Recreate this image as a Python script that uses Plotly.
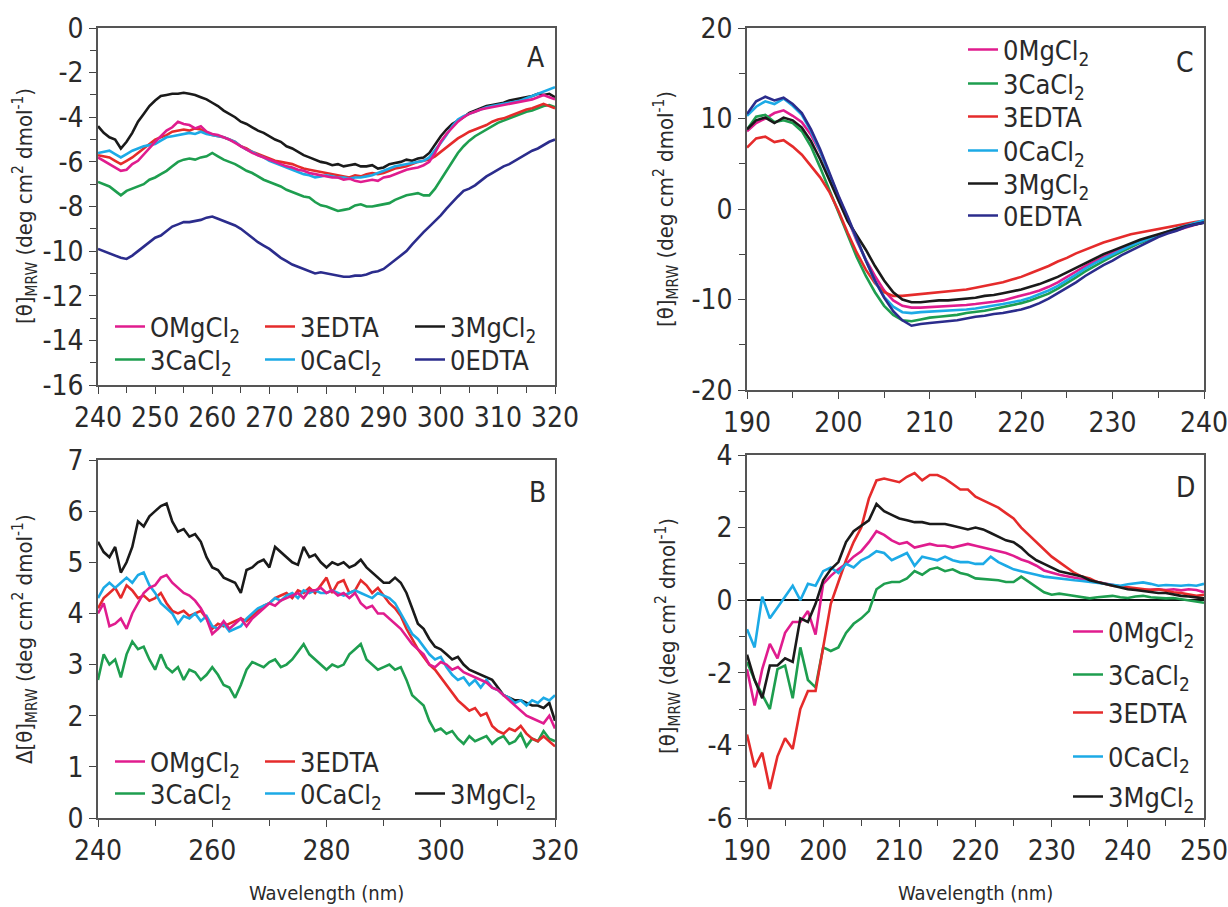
import plotly.graph_objects as go

# ---------------- Panel A data (240-320 nm, 1 nm step) ----------------
wl_A = list(range(240, 321))
A_0MgCl2 = [-5.8, -5.95, -6.1, -6.25, -6.4, -6.35, -6.1, -5.95, -5.65, -5.4,
            -5.1, -4.85, -4.6, -4.45, -4.2, -4.3, -4.35, -4.5, -4.4, -4.65,
            -4.75, -4.8, -4.9, -5.0, -5.15, -5.3, -5.45, -5.6, -5.7, -5.8,
            -5.9, -6.0, -6.1, -6.2, -6.25, -6.35, -6.4, -6.5, -6.55, -6.6,
            -6.65, -6.7, -6.7, -6.8, -6.75, -6.85, -6.9, -6.85, -6.8, -6.85,
            -6.7, -6.65, -6.55, -6.45, -6.35, -6.3, -6.25, -6.15, -6.0, -5.6,
            -5.1, -4.75, -4.45, -4.2, -4.0, -3.85, -3.75, -3.65, -3.6, -3.55,
            -3.5, -3.45, -3.4, -3.35, -3.3, -3.25, -3.2, -3.1, -3.0, -3.1, -3.2]
A_3CaCl2 = [-6.9, -7.0, -7.1, -7.3, -7.5, -7.3, -7.2, -7.1, -7.0, -6.8,
            -6.7, -6.55, -6.4, -6.2, -6.0, -5.9, -5.85, -5.9, -5.8, -5.75,
            -5.6, -5.75, -5.9, -6.0, -6.1, -6.25, -6.4, -6.5, -6.65, -6.8,
            -6.9, -7.0, -7.1, -7.25, -7.35, -7.45, -7.55, -7.6, -7.8, -7.95,
            -8.0, -8.1, -8.2, -8.15, -8.1, -7.95, -7.9, -8.0, -8.0, -7.95,
            -7.9, -7.85, -7.7, -7.6, -7.5, -7.45, -7.4, -7.5, -7.5, -7.2,
            -6.8, -6.4, -6.0, -5.6, -5.3, -5.05, -4.85, -4.7, -4.55, -4.4,
            -4.25, -4.15, -4.05, -3.95, -3.85, -3.75, -3.7, -3.6, -3.5, -3.45, -3.55]
A_3EDTA = [-5.7, -5.75, -5.8, -5.95, -6.1, -5.95, -5.8, -5.6, -5.4, -5.2,
           -5.0, -4.9, -4.8, -4.65, -4.6, -4.55, -4.6, -4.5, -4.55, -4.7,
           -4.8, -4.85, -4.9, -5.0, -5.1, -5.3, -5.4, -5.55, -5.65, -5.75,
           -5.85, -5.95, -6.0, -6.05, -6.1, -6.2, -6.3, -6.35, -6.4, -6.45,
           -6.5, -6.55, -6.6, -6.65, -6.7, -6.6, -6.65, -6.55, -6.5, -6.55,
           -6.5, -6.4, -6.3, -6.25, -6.2, -6.1, -6.0, -5.95, -5.9, -5.75,
           -5.55, -5.35, -5.15, -4.95, -4.8, -4.65, -4.55, -4.45, -4.35, -4.2,
           -4.1, -4.05, -3.95, -3.85, -3.75, -3.65, -3.6, -3.5, -3.4, -3.5, -3.6]
A_0CaCl2 = [-5.6, -5.55, -5.5, -5.65, -5.8, -5.65, -5.5, -5.4, -5.3, -5.25,
            -5.2, -5.05, -4.9, -4.85, -4.8, -4.75, -4.7, -4.75, -4.65, -4.75,
            -4.8, -4.85, -4.9, -5.0, -5.1, -5.3, -5.45, -5.55, -5.7, -5.8,
            -5.95, -6.05, -6.15, -6.25, -6.35, -6.45, -6.55, -6.6, -6.7, -6.65,
            -6.6, -6.65, -6.7, -6.7, -6.75, -6.7, -6.7, -6.65, -6.6, -6.5,
            -6.4, -6.3, -6.2, -6.15, -6.1, -6.05, -6.0, -5.95, -5.8, -5.5,
            -5.15, -4.8, -4.4, -4.1, -3.95, -3.85, -3.75, -3.65, -3.55, -3.5,
            -3.45, -3.4, -3.35, -3.3, -3.25, -3.15, -3.05, -2.95, -2.85, -2.75, -2.65]
A_3MgCl2 = [-4.4, -4.7, -4.9, -5.0, -5.4, -5.1, -4.7, -4.2, -3.85, -3.5,
            -3.25, -3.05, -3.0, -2.95, -2.95, -2.9, -2.95, -3.0, -3.1, -3.2,
            -3.35, -3.5, -3.7, -3.85, -4.0, -4.2, -4.3, -4.45, -4.6, -4.7,
            -4.85, -5.0, -5.1, -5.3, -5.4, -5.55, -5.7, -5.8, -5.9, -6.0,
            -6.05, -6.15, -6.1, -6.2, -6.15, -6.1, -6.2, -6.2, -6.15, -6.3,
            -6.25, -6.1, -6.05, -6.0, -5.9, -5.95, -5.85, -5.8, -5.6, -5.2,
            -4.85, -4.55, -4.3, -4.15, -4.0, -3.8, -3.7, -3.6, -3.5, -3.45,
            -3.4, -3.35, -3.25, -3.2, -3.15, -3.1, -3.05, -2.95, -3.0, -2.95, -3.1]
A_0EDTA = [-9.9, -10.0, -10.1, -10.2, -10.3, -10.35, -10.2, -10.0, -9.8, -9.6,
           -9.4, -9.3, -9.1, -8.9, -8.8, -8.7, -8.7, -8.65, -8.6, -8.5,
           -8.45, -8.55, -8.65, -8.75, -8.85, -9.0, -9.2, -9.4, -9.6, -9.75,
           -9.9, -10.1, -10.3, -10.45, -10.6, -10.7, -10.8, -10.9, -11.0, -10.95,
           -11.0, -11.05, -11.1, -11.15, -11.15, -11.1, -11.1, -11.05, -10.95, -10.9,
           -10.8, -10.6, -10.4, -10.2, -10.0, -9.7, -9.4, -9.15, -8.9, -8.65,
           -8.4, -8.1, -7.8, -7.55, -7.3, -7.2, -7.05, -6.85, -6.65, -6.5,
           -6.35, -6.2, -6.1, -5.95, -5.8, -5.65, -5.5, -5.4, -5.25, -5.1, -5.0]

# ---------------- Panel B data (240-320 nm, 1 nm step) ----------------
wl_B = list(range(240, 321))
B_0MgCl2 = [4.0, 4.2, 3.75, 3.8, 3.9, 3.7, 4.0, 4.2, 4.4, 4.5,
            4.55, 4.7, 4.75, 4.6, 4.5, 4.4, 4.35, 4.25, 4.1, 3.9,
            3.6, 3.7, 3.85, 3.7, 3.8, 3.9, 3.75, 3.9, 4.0, 4.1,
            4.2, 4.15, 4.25, 4.3, 4.35, 4.4, 4.3, 4.45, 4.45, 4.5,
            4.4, 4.45, 4.35, 4.4, 4.3, 4.4, 4.2, 4.1, 4.15, 4.0,
            4.0, 3.9, 3.8, 3.7, 3.55, 3.4, 3.3, 3.2, 3.0, 2.95,
            3.05, 3.0, 2.9, 2.95, 2.85, 2.8, 2.75, 2.7, 2.65, 2.55,
            2.5, 2.4, 2.3, 2.2, 2.1, 2.0, 1.95, 1.9, 1.85, 2.0, 1.75]
B_3EDTA = [4.1, 4.3, 4.4, 4.5, 4.3, 4.55, 4.45, 4.3, 4.35, 4.25,
           4.3, 4.4, 4.2, 4.05, 4.0, 4.05, 3.95, 4.0, 4.05, 3.9,
           3.7, 3.8, 3.75, 3.8, 3.85, 3.9, 3.85, 3.95, 4.05, 4.15,
           4.2, 4.3, 4.35, 4.4, 4.3, 4.45, 4.4, 4.5, 4.4, 4.55,
           4.7, 4.4, 4.6, 4.65, 4.4, 4.45, 4.65, 4.55, 4.4, 4.5,
           4.35, 4.2, 4.1, 3.95, 3.7, 3.5, 3.3, 3.15, 3.0, 2.9,
           2.75, 2.6, 2.45, 2.3, 2.2, 2.1, 2.15, 2.0, 2.05, 1.8,
           1.7, 1.65, 1.75, 1.7, 1.8, 1.65, 1.55, 1.5, 1.6, 1.5, 1.4]
B_3CaCl2 = [2.7, 3.2, 3.0, 3.1, 2.75, 3.2, 3.45, 3.3, 3.35, 3.1,
            2.9, 3.2, 2.95, 2.85, 2.95, 2.7, 2.9, 2.85, 2.7, 2.8,
            2.95, 2.8, 2.6, 2.55, 2.35, 2.6, 2.9, 3.05, 3.0, 2.95,
            3.05, 3.1, 2.95, 3.0, 3.1, 3.25, 3.4, 3.2, 3.1, 3.0,
            2.9, 3.0, 2.95, 3.0, 3.2, 3.3, 3.4, 3.1, 3.0, 2.9,
            2.95, 3.0, 2.9, 2.95, 2.7, 2.4, 2.3, 2.2, 1.9, 1.7,
            1.75, 1.65, 1.7, 1.55, 1.45, 1.6, 1.5, 1.55, 1.6, 1.45,
            1.55, 1.6, 1.45, 1.5, 1.65, 1.4, 1.55, 1.5, 1.7, 1.55, 1.5]
B_0CaCl2 = [4.3, 4.5, 4.6, 4.5, 4.6, 4.7, 4.6, 4.75, 4.8, 4.55,
            4.4, 4.2, 4.1, 4.0, 3.8, 3.95, 3.9, 4.0, 3.85, 3.95,
            3.75, 3.7, 3.8, 3.65, 3.7, 3.75, 3.9, 4.0, 4.1, 4.15,
            4.2, 4.3, 4.25, 4.35, 4.4, 4.3, 4.45, 4.4, 4.45, 4.4,
            4.4, 4.45, 4.4, 4.35, 4.4, 4.45, 4.4, 4.35, 4.3, 4.4,
            4.35, 4.3, 4.2, 4.0, 3.8, 3.6, 3.5, 3.35, 3.2, 3.1,
            3.15, 2.95, 2.8, 2.7, 2.75, 2.6, 2.7, 2.55, 2.7, 2.55,
            2.5, 2.4, 2.35, 2.25, 2.3, 2.2, 2.3, 2.25, 2.35, 2.3, 2.4]
B_3MgCl2 = [5.4, 5.2, 5.1, 5.3, 4.8, 5.0, 5.3, 5.8, 5.7, 5.9,
            6.0, 6.1, 6.15, 5.8, 5.6, 5.65, 5.5, 5.55, 5.4, 5.1,
            4.9, 4.85, 4.7, 4.65, 4.6, 4.4, 4.85, 4.9, 5.0, 5.05,
            4.9, 5.3, 5.2, 5.1, 5.0, 4.95, 5.3, 5.1, 5.15, 5.0,
            4.9, 5.0, 4.95, 5.0, 4.9, 4.95, 5.05, 4.9, 4.8, 4.7,
            4.6, 4.6, 4.7, 4.6, 4.4, 4.1, 3.8, 3.7, 3.5, 3.35,
            3.3, 3.2, 3.1, 3.15, 3.0, 2.9, 2.85, 2.8, 2.75, 2.7,
            2.55, 2.4, 2.35, 2.3, 2.3, 2.25, 2.2, 2.2, 2.15, 2.25, 1.9]

# ---------------- Panel C data (190-240 nm, 1 nm step) ----------------
wl_C = list(range(190, 241))
C_0MgCl2 = [8.6, 9.5, 10.0, 10.6, 10.9, 10.3, 9.6, 8.2, 6.3, 3.8,
            1.3, -1.2, -3.5, -5.6, -7.4, -9.0, -10.1, -10.7, -10.9, -10.9,
            -10.85, -10.8, -10.75, -10.7, -10.6, -10.5, -10.4, -10.25, -10.1, -9.85,
            -9.6, -9.3, -9.0, -8.6, -8.1, -7.5, -6.9, -6.3, -5.8, -5.3,
            -4.8, -4.35, -3.95, -3.6, -3.25, -2.95, -2.65, -2.35, -2.05, -1.75, -1.45]
C_3CaCl2 = [8.8, 10.2, 10.4, 9.6, 9.8, 9.5, 8.6, 6.9, 4.6, 2.1,
            -0.5, -3.0, -5.3, -7.4, -9.2, -10.7, -11.7, -12.3, -12.4, -12.2,
            -12.0, -11.9, -11.8, -11.7, -11.5, -11.4, -11.25, -11.05, -10.85, -10.65,
            -10.4, -10.1, -9.75, -9.35, -8.8, -8.2, -7.55, -6.9, -6.3, -5.75,
            -5.2, -4.7, -4.2, -3.75, -3.35, -2.95, -2.6, -2.25, -1.95, -1.65, -1.4]
C_3EDTA = [6.8, 7.8, 8.0, 7.4, 7.6, 6.9, 6.0, 4.8, 3.5, 1.9,
           -0.2, -2.6, -4.8, -6.7, -8.2, -9.2, -9.6, -9.6, -9.5, -9.4,
           -9.3, -9.2, -9.1, -9.0, -8.9, -8.7, -8.5, -8.3, -8.1, -7.8,
           -7.5, -7.1, -6.7, -6.3, -5.8, -5.4, -4.9, -4.5, -4.1, -3.7,
           -3.4, -3.1, -2.8, -2.6, -2.4, -2.2, -2.0, -1.8, -1.6, -1.45, -1.3]
C_0CaCl2 = [10.3, 11.3, 11.9, 11.6, 12.2, 11.4, 10.4, 8.6, 6.4, 3.8,
            1.3, -1.0, -3.4, -5.8, -8.0, -9.7, -10.8, -11.4, -11.5, -11.4,
            -11.35, -11.3, -11.2, -11.15, -11.1, -11.0, -10.85, -10.7, -10.5, -10.3,
            -10.1, -9.8, -9.4, -9.0, -8.5, -7.9, -7.25, -6.6, -6.0, -5.5,
            -5.0, -4.5, -4.05, -3.65, -3.25, -2.85, -2.5, -2.15, -1.85, -1.55, -1.25]
C_3MgCl2 = [8.8, 9.8, 10.1, 9.5, 10.1, 9.8, 9.0, 7.5, 5.5, 3.2,
            0.8, -1.3, -2.9, -4.5, -6.3, -7.9, -9.2, -10.0, -10.3, -10.3,
            -10.2, -10.1, -10.1, -10.0, -9.9, -9.8, -9.6, -9.5, -9.3, -9.1,
            -8.9, -8.6, -8.3, -7.9, -7.5, -7.0, -6.5, -6.0, -5.5, -5.0,
            -4.6, -4.2, -3.8, -3.4, -3.1, -2.8, -2.5, -2.2, -1.9, -1.7, -1.5]
C_0EDTA = [10.5, 11.9, 12.4, 12.0, 12.3, 11.6, 10.6, 8.8, 6.6, 4.0,
           1.5, -0.8, -3.3, -5.7, -7.9, -9.8, -11.3, -12.3, -12.9, -12.7,
           -12.6, -12.5, -12.4, -12.3, -12.1, -11.9, -11.8, -11.6, -11.5, -11.3,
           -11.1, -10.8, -10.4, -9.9, -9.3, -8.7, -8.1, -7.4, -6.8, -6.2,
           -5.7, -5.1, -4.6, -4.1, -3.6, -3.1, -2.7, -2.4, -2.0, -1.7, -1.5]

# ---------------- Panel D data (190-250 nm, 1 nm step) ----------------
wl_D = list(range(190, 251))
D_0MgCl2 = [-1.9, -2.9, -1.9, -1.2, -1.6, -0.9, -0.6, -0.6, -0.3, -0.95,
            0.45, 0.67, 0.85, 1.0, 1.2, 1.35, 1.6, 1.9, 1.8, 1.65,
            1.55, 1.6, 1.45, 1.5, 1.55, 1.5, 1.5, 1.45, 1.5, 1.55,
            1.5, 1.45, 1.4, 1.35, 1.3, 1.22, 1.12, 1.05, 0.95, 0.82,
            0.75, 0.7, 0.66, 0.62, 0.58, 0.53, 0.49, 0.45, 0.42, 0.38,
            0.32, 0.3, 0.28, 0.3, 0.3, 0.28, 0.3, 0.27, 0.3, 0.28, 0.22]
D_3CaCl2 = [-1.7, -2.2, -2.6, -3.0, -1.9, -1.8, -2.7, -1.3, -2.2, -2.4,
            -1.3, -1.4, -1.3, -0.9, -0.65, -0.5, -0.3, 0.3, 0.45, 0.5,
            0.5, 0.6, 0.8, 0.7, 0.85, 0.9, 0.8, 0.85, 0.75, 0.7,
            0.6, 0.58, 0.55, 0.55, 0.5, 0.5, 0.65, 0.5, 0.35, 0.22,
            0.15, 0.18, 0.15, 0.12, 0.1, 0.05, 0.08, 0.1, 0.12, 0.08,
            0.06, 0.1, 0.12, 0.08, 0.06, 0.05, 0.06, 0.03, 0.0, -0.02, -0.07]
D_3EDTA = [-3.7, -4.6, -4.2, -5.2, -4.3, -3.8, -4.1, -3.0, -2.5, -2.5,
           -1.3, -0.1, 0.5, 1.1, 1.6, 2.0, 2.8, 3.3, 3.35, 3.3,
           3.25, 3.4, 3.5, 3.3, 3.45, 3.45, 3.35, 3.2, 3.05, 3.05,
           2.85, 2.75, 2.65, 2.55, 2.4, 2.25, 2.0, 1.8, 1.6, 1.4,
           1.2, 1.05, 0.9, 0.75, 0.65, 0.6, 0.5, 0.45, 0.4, 0.38,
           0.35, 0.32, 0.3, 0.28, 0.3, 0.25, 0.22, 0.2, 0.15, 0.12, 0.15]
D_0CaCl2 = [-0.8, -1.3, 0.1, -0.5, -0.2, 0.1, 0.4, 0.0, 0.45, 0.4,
            0.8, 0.9, 0.75, 1.0, 0.9, 1.1, 1.2, 1.35, 1.3, 1.1,
            1.2, 1.3, 0.95, 1.2, 1.15, 1.1, 1.2, 1.1, 1.05, 1.05,
            1.0, 1.0, 1.2, 1.05, 0.95, 0.85, 0.8, 0.76, 0.7, 0.65,
            0.62, 0.6, 0.57, 0.55, 0.53, 0.5, 0.49, 0.46, 0.42, 0.4,
            0.44, 0.46, 0.49, 0.45, 0.4, 0.42, 0.4, 0.4, 0.42, 0.4, 0.45]
D_3MgCl2 = [-1.5, -2.2, -2.7, -1.8, -1.8, -1.6, -1.7, -0.5, -0.6, -0.1,
            0.55, 0.85, 1.05, 1.6, 1.9, 2.05, 2.2, 2.65, 2.45, 2.35,
            2.25, 2.2, 2.15, 2.15, 2.1, 2.1, 2.1, 2.05, 2.0, 1.95,
            2.0, 1.95, 1.85, 1.75, 1.65, 1.6, 1.45, 1.25, 1.1, 1.0,
            0.9, 0.8, 0.75, 0.7, 0.65, 0.55, 0.5, 0.45, 0.4, 0.35,
            0.3, 0.28, 0.25, 0.22, 0.2, 0.2, 0.15, 0.12, 0.1, 0.07, 0.05]

# ---------------- tick labels ----------------
A_xticks = [240, 250, 260, 270, 280, 290, 300, 310, 320]
A_yticks = [0, -2, -4, -6, -8, -10, -12, -14, -16]
B_xticks = [240, 260, 280, 300, 320]
B_yticks = [0, 1, 2, 3, 4, 5, 6, 7]
C_xticks = [190, 200, 210, 220, 230, 240]
C_yticks = [20, 10, 0, -10, -20]
D_xticks = [190, 200, 210, 220, 230, 240, 250]
D_yticks = [4, 2, 0, -2, -4, -6]

COL = {"0MgCl2": "#E01C8E", "3CaCl2": "#1E9E4F", "3EDTA": "#E52B2B",
       "0CaCl2": "#1CAAE6", "3MgCl2": "#1A1A1A", "0EDTA": "#2B2C8C"}

FONT = "DejaVu Sans Condensed, Liberation Sans Narrow, Arial Narrow, sans-serif"
TXT = "#2a2a2a"
W, H = 1228, 907


def px(xp):
    return xp / W


def py(yp):
    return 1 - yp / H


fig = go.Figure()


def add(x, y, key, label, xa, ya, legend, rank):
    fig.add_trace(go.Scatter(
        x=x, y=y, mode="lines", name=label,
        line=dict(color=COL[key], width=2.6),
        xaxis=xa, yaxis=ya, legend=legend, legendrank=rank,
        hoverinfo="skip"))


# Panel A
add(wl_A, A_0EDTA, "0EDTA", "0EDTA", "x", "y", "legend2", 3)
add(wl_A, A_3CaCl2, "3CaCl2", "3CaCl<sub>2</sub>", "x", "y", "legend2", 1)
add(wl_A, A_3MgCl2, "3MgCl2", "3MgCl<sub>2</sub>", "x", "y", "legend", 3)
add(wl_A, A_3EDTA, "3EDTA", "3EDTA", "x", "y", "legend", 2)
add(wl_A, A_0CaCl2, "0CaCl2", "0CaCl<sub>2</sub>", "x", "y", "legend2", 2)
add(wl_A, A_0MgCl2, "0MgCl2", "OMgCl<sub>2</sub>", "x", "y", "legend", 1)

# Panel B
add(wl_B, B_3CaCl2, "3CaCl2", "3CaCl<sub>2</sub>", "x2", "y2", "legend4", 1)
add(wl_B, B_3MgCl2, "3MgCl2", "3MgCl<sub>2</sub>", "x2", "y2", "legend4", 3)
add(wl_B, B_3EDTA, "3EDTA", "3EDTA", "x2", "y2", "legend3", 2)
add(wl_B, B_0CaCl2, "0CaCl2", "0CaCl<sub>2</sub>", "x2", "y2", "legend4", 2)
add(wl_B, B_0MgCl2, "0MgCl2", "OMgCl<sub>2</sub>", "x2", "y2", "legend3", 1)

# Panel C (one legend box per entry: legend5..legend10)
add(wl_C, C_0MgCl2, "0MgCl2", "0MgCl<sub>2</sub>", "x3", "y3", "legend5", 1)
add(wl_C, C_3CaCl2, "3CaCl2", "3CaCl<sub>2</sub>", "x3", "y3", "legend6", 1)
add(wl_C, C_3EDTA, "3EDTA", "3EDTA", "x3", "y3", "legend7", 1)
add(wl_C, C_0CaCl2, "0CaCl2", "0CaCl<sub>2</sub>", "x3", "y3", "legend8", 1)
add(wl_C, C_3MgCl2, "3MgCl2", "3MgCl<sub>2</sub>", "x3", "y3", "legend9", 1)
add(wl_C, C_0EDTA, "0EDTA", "0EDTA", "x3", "y3", "legend10", 1)

# Panel D (legend11..legend15)
add(wl_D, D_0MgCl2, "0MgCl2", "0MgCl<sub>2</sub>", "x4", "y4", "legend11", 1)
add(wl_D, D_3CaCl2, "3CaCl2", "3CaCl<sub>2</sub>", "x4", "y4", "legend12", 1)
add(wl_D, D_3EDTA, "3EDTA", "3EDTA", "x4", "y4", "legend13", 1)
add(wl_D, D_0CaCl2, "0CaCl2", "0CaCl<sub>2</sub>", "x4", "y4", "legend14", 1)
add(wl_D, D_3MgCl2, "3MgCl2", "3MgCl<sub>2</sub>", "x4", "y4", "legend15", 1)


def axis(domain, rng, ticks, minor, anchor, zeroline=False):
    return dict(domain=domain, range=rng, tickmode="array", tickvals=ticks,
                ticktext=[str(t) for t in ticks],
                ticks="outside", ticklen=7, tickwidth=1.3, tickcolor="#444",
                minor=dict(dtick=minor, tick0=rng[0], ticks="outside", ticklen=6,
                           tickwidth=1.3, tickcolor="#444", showgrid=False),
                showline=True, mirror=True, linecolor="#555", linewidth=1.5,
                showgrid=False, zeroline=zeroline, zerolinecolor="#111", zerolinewidth=1.6,
                anchor=anchor, automargin=False, ticklabeloverflow="allow",
                tickfont=dict(family=FONT, size=28, color=TXT), fixedrange=True)


xdomL = [px(98), px(555)]
xdomR = [px(747), px(1204)]

layout = dict(
    template="none",
    width=W, height=H, margin=dict(l=0, r=0, t=0, b=0, autoexpand=False),
    paper_bgcolor="white", plot_bgcolor="white", showlegend=True,
    font=dict(family=FONT, color=TXT),
    xaxis=axis(xdomL, [240, 320], A_xticks, 5, "y"),
    yaxis=axis([py(385), py(28)], [-16, 0], A_yticks, 1, "x"),
    xaxis2=axis(xdomL, [240, 320], B_xticks, 10, "y2"),
    yaxis2=axis([py(818), py(460)], [0, 7], B_yticks, 7, "x2"),
    xaxis3=axis(xdomR, [190, 240], C_xticks, 5, "y3"),
    yaxis3=axis([py(390), py(28)], [-20, 20], C_yticks, 5, "x3"),
    xaxis4=axis(xdomR, [190, 250], D_xticks, 5, "y4"),
    yaxis4=axis([py(818), py(455)], [-6, 4], D_yticks, 1, "x4", zeroline=True),
)
layout["yaxis2"]["minor"] = dict(ticks="", showgrid=False)

legfont = dict(family=FONT, size=27, color=TXT)


def hleg(x, y):
    return dict(orientation="h", x=px(x), y=py(y), xanchor="left", yanchor="middle",
                bgcolor="rgba(0,0,0,0)", font=legfont, entrywidth=105,
                entrywidthmode="pixels", traceorder="normal", itemclick=False,
                borderwidth=0)


def vleg(x, y):
    return dict(orientation="v", x=px(x), y=py(y), xanchor="left", yanchor="middle",
                bgcolor="rgba(0,0,0,0)", font=legfont, traceorder="normal",
                itemclick=False, borderwidth=0)


layout["legend"] = hleg(110, 327)
layout["legend2"] = hleg(110, 360)
layout["legend3"] = hleg(110, 762)
layout["legend4"] = hleg(110, 794)
C_leg_y = [50, 84, 117, 151, 184, 216]
for i, yy in enumerate(C_leg_y):
    layout["legend%d" % (5 + i)] = vleg(963, yy)
D_leg_y = [632, 675, 713, 757, 797]
for i, yy in enumerate(D_leg_y):
    layout["legend%d" % (11 + i)] = vleg(1068, yy)

fig.update_layout(**layout)

ytitle = "[θ]<sub>MRW</sub> (deg cm<sup>2</sup> dmol<sup>-1</sup>)"
ann = []
ann.append(dict(text=ytitle, x=px(25), y=py(206), textangle=-90, size=22))
ann.append(dict(text="Δ" + ytitle, x=px(25), y=py(639), textangle=-90, size=22))
ann.append(dict(text=ytitle, x=px(666), y=py(209), textangle=-90, size=22))
ann.append(dict(text=ytitle, x=px(668), y=py(636), textangle=-90, size=22))
ann.append(dict(text="Wavelength (nm)", x=px(326), y=py(893), textangle=0, size=20))
ann.append(dict(text="Wavelength (nm)", x=px(975), y=py(893), textangle=0, size=20))
for a in ann:
    sz = a.pop("size")
    a.update(xref="paper", yref="paper", showarrow=False, xanchor="center", yanchor="middle",
             font=dict(family=FONT, size=sz, color=TXT))
letters = [("A", 536, 58), ("B", 537, 492), ("C", 1185, 62), ("D", 1185, 488)]
for t, xx, yy in letters:
    ann.append(dict(text=t, x=px(xx), y=py(yy), xref="paper", yref="paper", showarrow=False,
                    xanchor="center", yanchor="middle", font=dict(family=FONT, size=28, color=TXT)))
fig.update_layout(annotations=ann)

fig.write_html("out.html", config={"displayModeBar": False},
               post_script="document.body.style.margin='0px';")
